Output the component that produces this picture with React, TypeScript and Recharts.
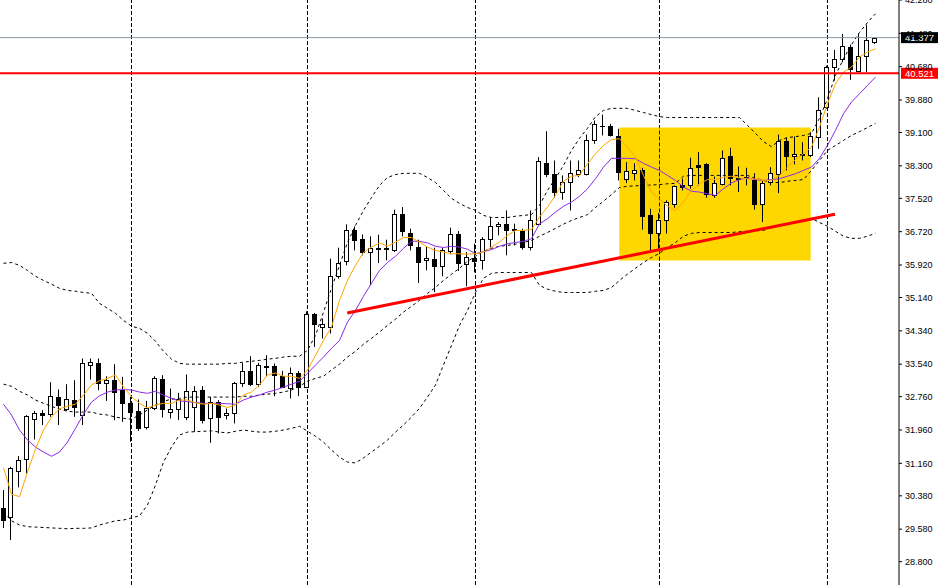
import React from "react";
import {
  ComposedChart,
  Bar,
  Line,
  XAxis,
  YAxis,
  ReferenceLine,
  ReferenceArea,
} from "recharts";

// daily candles
const opens = [
  30.087, 29.864, 30.981, 31.255, 32.213, 32.371, 32.333, 32.741, 32.453, 32.676,
  32.317, 33.532, 33.58, 33.076, 33.155, 32.916, 32.597, 32.42, 32.022, 32.477,
  33.196, 32.388, 32.453, 32.276, 32.516, 32.916, 32.237, 32.635, 32.309, 32.357,
  33.091, 33.378, 33.06, 33.491, 33.491, 33.251, 32.956, 33.316, 32.995, 34.754,
  34.433, 34.433, 35.648, 36.015, 36.751, 36.552, 36.231, 36.336, 36.336, 36.288,
  37.134, 36.696, 36.351, 36.049, 36.073, 35.888, 36.255, 36.655, 35.953, 36.08,
  36.032, 36.552, 36.847, 36.912, 36.792, 36.734, 36.351, 36.912, 38.374, 38.093,
  37.669, 37.909, 38.11, 38.093, 38.908, 39.268, 39.268, 39.028, 37.99, 38.124,
  38.206, 37.111, 36.686, 37.007, 37.391, 37.83, 37.83, 38.309, 38.333, 37.59,
  37.87, 38.525, 38.014, 38.028, 37.966, 37.374, 37.909, 38.11, 38.891, 38.541,
  38.589, 38.549, 38.987, 39.723, 40.682, 40.867, 41.145, 40.586, 40.946, 41.264,
];
const highs = [
  30.519, 31.077, 31.334, 32.317, 32.42, 32.436, 33.107, 32.932, 33.059, 33.155,
  33.675, 33.675, 33.675, 33.251, 33.539, 33.235, 32.755, 32.693, 32.659, 33.251,
  33.275, 32.956, 32.851, 33.292, 33.012, 33.012, 32.755, 32.676, 32.477, 33.115,
  33.57, 33.731, 33.57, 33.755, 33.556, 33.378, 33.46, 33.378, 34.809, 34.77,
  34.634, 36.073, 36.336, 36.895, 36.847, 36.655, 36.607, 36.648, 36.528, 37.247,
  37.31, 36.792, 36.528, 36.367, 36.336, 36.336, 36.816, 36.734, 36.231, 36.432,
  36.59, 37.07, 36.95, 37.23, 36.912, 36.792, 37.23, 38.508, 39.131, 38.429,
  38.069, 38.429, 38.429, 39.052, 39.388, 39.531, 39.308, 39.189, 38.388, 38.364,
  38.254, 37.271, 37.166, 37.47, 37.83, 37.99, 38.494, 38.628, 38.364, 38.045,
  38.669, 38.733, 38.285, 38.254, 38.124, 37.933, 38.268, 39.052, 38.973, 39.004,
  38.867, 39.107, 39.946, 40.706, 41.082, 41.466, 41.209, 41.466, 41.689, 41.384,
];
const lows = [
  29.608, 29.32, 30.584, 30.919, 31.734, 32.077, 32.276, 32.077, 32.42, 32.276,
  32.077, 33.172, 32.916, 32.659, 32.197, 32.156, 31.677, 31.94, 31.974, 32.436,
  32.261, 32.237, 32.197, 32.197, 31.916, 32.117, 31.653, 31.878, 32.213, 32.117,
  32.995, 33.012, 32.995, 33.251, 32.772, 32.98, 32.717, 32.772, 32.964, 33.954,
  34.155, 34.275, 35.593, 35.912, 36.272, 36.152, 35.433, 35.967, 36.032, 36.231,
  36.607, 36.272, 35.488, 35.792, 35.272, 35.648, 36.176, 35.775, 35.409, 35.744,
  35.809, 36.336, 36.631, 36.152, 36.392, 36.288, 36.272, 36.871, 38.028, 37.535,
  37.487, 37.23, 38.028, 38.069, 38.829, 39.028, 39.004, 37.949, 37.885, 37.949,
  36.768, 36.255, 36.312, 36.672, 37.295, 37.71, 37.751, 37.83, 37.535, 37.535,
  37.83, 37.83, 37.669, 37.83, 37.247, 36.95, 37.83, 37.645, 38.189, 38.333,
  38.429, 38.508, 38.709, 39.668, 40.346, 40.785, 40.363, 40.545, 40.545, 41.226,
];
const closes = [
  29.8, 31.039, 31.238, 32.293, 32.357, 32.309, 32.772, 32.549, 32.693, 32.501,
  33.58, 33.587, 33.076, 33.155, 32.875, 32.611, 32.396, 31.998, 32.477, 33.22,
  32.453, 32.453, 32.693, 32.899, 32.899, 32.197, 32.635, 32.261, 32.357, 33.076,
  33.378, 33.06, 33.515, 33.46, 33.275, 32.995, 33.316, 32.995, 34.754, 34.514,
  34.498, 35.648, 35.977, 36.751, 36.528, 36.231, 36.336, 36.303, 36.296, 37.134,
  36.734, 36.392, 35.991, 36.097, 35.905, 36.272, 36.655, 35.967, 36.111, 36.015,
  36.552, 36.847, 36.912, 36.768, 36.751, 36.351, 37.007, 38.405, 38.11, 37.669,
  37.909, 38.124, 38.206, 38.908, 39.292, 39.251, 39.052, 38.148, 38.172, 38.189,
  37.087, 36.686, 37.007, 37.429, 37.806, 37.798, 38.254, 38.278, 37.614, 37.894,
  38.494, 38.014, 37.99, 37.997, 37.391, 37.885, 38.124, 38.891, 38.525, 38.589,
  38.556, 39.028, 39.644, 40.682, 40.867, 41.185, 40.627, 40.946, 41.322, 41.377,
];

// indicator lines
const maFast = [
  31.05, 30.42, 30.36, 30.95, 31.5, 31.96, 32.27, 32.47, 32.53, 32.58,
  32.8, 33.04, 33.14, 33.2, 33.28, 32.99, 32.76, 32.6, 32.49, 32.56,
  32.6, 32.6, 32.68, 32.68, 32.61, 32.58, 32.6, 32.56, 32.5, 32.56,
  32.8, 32.87, 33.04, 33.28, 33.33, 33.25, 33.25, 33.2, 33.4, 33.75,
  34.11, 34.43, 35.07, 35.55, 35.91, 36.22, 36.35, 36.45, 36.37, 36.47,
  36.58, 36.58, 36.47, 36.35, 36.27, 36.23, 36.19, 36.19, 36.18, 36.19,
  36.23, 36.35, 36.47, 36.63, 36.75, 36.75, 36.77, 37.07, 37.31, 37.59,
  37.93, 38.05, 38.07, 38.35, 38.59, 38.79, 38.93, 38.95, 38.75, 38.51,
  38.07, 37.67, 37.51, 37.33, 37.23, 37.43, 37.71, 37.87, 37.97, 37.97,
  38.03, 38.05, 38.01, 37.99, 37.99, 37.95, 37.95, 38.07, 38.27, 38.45,
  38.59, 38.75, 39.23, 39.79, 40.27, 40.55, 40.67, 40.91, 41.03, 41.11,
];
const maSlow = [
  32.58, 32.32, 31.96, 31.72, 31.55, 31.43, 31.33, 31.43, 31.67, 32.0,
  32.34, 32.63, 32.78, 32.87, 32.92, 32.93, 32.92, 32.87, 32.84, 32.89,
  32.8, 32.72, 32.66, 32.64, 32.62, 32.6, 32.6, 32.6, 32.59, 32.58,
  32.68, 32.75, 32.8, 32.87, 32.92, 32.99, 33.06, 33.13, 33.32, 33.52,
  33.71, 33.92, 34.11, 34.55, 34.83, 35.17, 35.48, 35.79, 35.98, 36.13,
  36.32, 36.49, 36.49, 36.45, 36.37, 36.34, 36.37, 36.35, 36.3, 36.19,
  36.24, 36.29, 36.37, 36.43, 36.46, 36.49, 36.55, 36.91, 37.03, 37.19,
  37.33, 37.43, 37.57, 37.75, 37.99, 38.27, 38.48, 38.48, 38.48, 38.47,
  38.36, 38.27, 38.19, 38.07, 37.95, 37.79, 37.69, 37.67, 37.63, 37.59,
  37.75, 37.89, 37.97, 38.01, 37.97, 37.95, 37.97, 37.99, 38.05, 38.11,
  38.19, 38.27, 38.48, 38.79, 39.15, 39.55, 39.83, 40.03, 40.23, 40.43,
];
const bbUpper = [
  35.96, 35.98, 35.91, 35.79, 35.65, 35.55, 35.46, 35.36, 35.31, 35.29,
  35.26, 35.24, 35.0, 34.88, 34.76, 34.59, 34.45, 34.4, 34.28, 34.09,
  33.85, 33.66, 33.56, 33.54, 33.54, 33.54, 33.54, 33.54, 33.56, 33.56,
  33.59, 33.61, 33.63, 33.66, 33.68, 33.71, 33.73, 33.73, 33.87, 34.23,
  34.79, 35.36, 35.91, 36.46, 36.87, 37.23, 37.54, 37.83, 38.02, 38.09,
  38.12, 38.12, 38.12, 38.02, 37.9, 37.71, 37.52, 37.4, 37.3, 37.23,
  37.11, 37.06, 37.06, 37.06, 37.09, 37.11, 37.13, 37.35, 37.71, 38.0,
  38.31, 38.67, 38.96, 39.2, 39.48, 39.63, 39.68, 39.68, 39.68, 39.63,
  39.58, 39.53, 39.48, 39.46, 39.46, 39.46, 39.46, 39.46, 39.46, 39.46,
  39.46, 39.46, 39.46, 39.27, 39.08, 38.88, 38.76, 38.91, 38.98, 39.0,
  39.03, 39.08, 39.44, 39.91, 40.47, 40.87, 41.21, 41.5, 41.74, 41.95,
];
const bbMid = [
  33.06, 33.01, 32.89, 32.8, 32.68, 32.6, 32.53, 32.46, 32.41, 32.39,
  32.39, 32.39, 32.34, 32.32, 32.27, 32.24, 32.22, 32.32, 32.44, 32.56,
  32.65, 32.7, 32.72, 32.75, 32.75, 32.75, 32.75, 32.75, 32.75, 32.75,
  32.77, 32.77, 32.8, 32.82, 32.84, 32.87, 32.92, 33.01, 33.13, 33.2,
  33.25, 33.4, 33.54, 33.71, 33.85, 34.02, 34.16, 34.31, 34.47, 34.62,
  34.79, 34.93, 35.07, 35.24, 35.38, 35.55, 35.7, 35.84, 36.01, 36.13,
  36.25, 36.32, 36.37, 36.39, 36.42, 36.46, 36.51, 36.61, 36.7, 36.8,
  36.9, 36.99, 37.06, 37.13, 37.3, 37.45, 37.61, 37.78, 37.81, 37.82,
  37.83, 37.84, 37.85, 37.87, 37.88, 38.05, 38.07, 38.07, 38.07, 38.07,
  38.07, 38.07, 38.07, 38.07, 38.0, 37.95, 37.9, 37.9, 37.93, 37.95,
  37.97, 38.19, 38.43, 38.67, 38.79, 38.91, 39.03, 39.12, 39.22, 39.32,
];
const bbLower = [
  29.99, 29.78, 29.68, 29.64, 29.63, 29.62, 29.61, 29.6, 29.59, 29.6,
  29.6, 29.61, 29.68, 29.73, 29.78, 29.8, 29.85, 29.9, 30.16, 30.64,
  31.19, 31.55, 31.84, 31.91, 31.92, 31.93, 31.94, 31.91, 31.89, 31.93,
  31.96, 31.93, 31.91, 31.91, 31.93, 31.96, 32.0, 32.05, 31.93, 31.81,
  31.67, 31.48, 31.31, 31.19, 31.17, 31.29, 31.43, 31.57, 31.72, 31.91,
  32.08, 32.27, 32.48, 32.75, 33.04, 33.52, 33.99, 34.47, 34.83, 35.26,
  35.6, 35.72, 35.74, 35.74, 35.74, 35.74, 35.74, 35.43, 35.34, 35.29,
  35.26, 35.26, 35.26, 35.26, 35.29, 35.31, 35.38, 35.55, 35.7, 35.84,
  35.98, 36.1, 36.2, 36.34, 36.46, 36.61, 36.68, 36.7, 36.7, 36.7,
  36.7, 36.7, 36.72, 36.73, 36.74, 36.75, 36.82, 36.87, 36.9, 36.94,
  36.97, 37.04, 36.94, 36.85, 36.73, 36.61, 36.56, 36.56, 36.61, 36.68,
];

const gridIdx = [16, 38, 59, 82, 103];
const yTicks = [
  28.8, 29.58, 30.38, 31.16, 31.96, 32.76, 33.54, 34.34, 35.14, 35.92, 36.72,
  37.52, 38.3, 39.1, 39.88, 40.68, 41.48, 42.28,
];
const lastPrice = 41.377;
const levelPrice = 40.521;
const boxX = [76.97, 100.9];
const boxY = [36.03, 39.22];
const trendLine = [
  { x: 42.97, y: 34.77 },
  { x: 103.94, y: 37.14 },
];

const rows = opens.map((o, i) => ({
  i,
  open: o,
  high: highs[i],
  low: lows[i],
  close: closes[i],
  fast: maFast[i],
  slow: maSlow[i],
  up: bbUpper[i],
  mid: bbMid[i],
  dn: bbLower[i],
}));

const FONT = "Liberation Sans, Arial, sans-serif";

function Candle(props: any) {
  const { x, y, width, height, payload } = props;
  if (x == null || payload == null) return null;
  const top = Math.min(y, y + height);
  const h = Math.abs(height);
  const k = h / (payload.high - payload.low || 1);
  const yOf = (v: number) => top + (payload.high - v) * k;
  const cx = Math.floor(x + width / 2) + 0.5;
  const yo = Math.round(yOf(payload.open)) + 0.5;
  const yc = Math.round(yOf(payload.close)) + 0.5;
  const bull = payload.close >= payload.open;
  const bTop = Math.min(yo, yc);
  const bH = Math.abs(yo - yc);
  return (
    <g>
      <line x1={cx} x2={cx} y1={top} y2={top + h} stroke="#000" strokeWidth={1} />
      {bH < 1 ? (
        <line x1={cx - 2.5} x2={cx + 2.5} y1={yo} y2={yo} stroke="#000" strokeWidth={1} />
      ) : (
        <rect
          x={cx - 2}
          y={bTop}
          width={4}
          height={bH}
          fill={bull ? "#fff" : "#000"}
          stroke="#000"
          strokeWidth={1}
        />
      )}
    </g>
  );
}

const priceTag = (text: string, bg: string) => (props: any) => {
  const vb = props.viewBox || {};
  const x0 = (vb.x ?? 0) + (vb.width ?? 0);
  const y0 = vb.y ?? 0;
  return (
    <g>
      <rect x={x0 + 2} y={y0 - 5.5} width={37} height={11} fill={bg} />
      <text x={x0 + 6} y={y0 + 3.5} fill="#fff" fontSize={9.5} fontFamily={FONT}>
        {text}
      </text>
    </g>
  );
};

const lineProps = {
  type: "linear" as const,
  strokeWidth: 1,
  dot: false,
  activeDot: false,
  isAnimationActive: false,
};

export default function App() {
  return (
    <div
      style={{
        position: "absolute",
        left: 0,
        top: 0,
        width: 940,
        height: 585,
        background: "#fff",
      }}
    >
      <ComposedChart
        width={940}
        height={585}
        data={rows}
        margin={{ top: 0, right: 0, bottom: 0, left: 0 }}
      >
        <XAxis
          dataKey="i"
          type="number"
          domain={[-0.4375, 111.94]}
          allowDataOverflow
          hide
        />
        <YAxis
          orientation="right"
          width={41}
          domain={[28.24, 42.28]}
          allowDataOverflow
          ticks={yTicks}
          interval={0}
          tickFormatter={(v: number) => v.toFixed(3)}
          tick={{ fontSize: 9, fill: "#000", fontFamily: FONT }}
          tickSize={3}
          tickMargin={3}
          axisLine={{ stroke: "#000" }}
          tickLine={{ stroke: "#000" }}
        />

        {gridIdx.map((g) => (
          <ReferenceLine
            key={g}
            x={g}
            stroke="#000"
            strokeDasharray="4 2"
            zIndex={-60}
          />
        ))}
        <ReferenceArea
          x1={boxX[0]}
          x2={boxX[1]}
          y1={boxY[0]}
          y2={boxY[1]}
          fill="#FFD700"
          fillOpacity={1}
          stroke="none"
          zIndex={-50}
        />
        <ReferenceLine
          segment={[
            { x: gridIdx[3], y: boxY[0] },
            { x: gridIdx[3], y: boxY[1] },
          ]}
          stroke="#0000ff"
          strokeDasharray="4 2"
          zIndex={-40}
        />

        <Line {...lineProps} dataKey="up" stroke="#000" strokeDasharray="3 3" />
        <Line {...lineProps} dataKey="mid" stroke="#000" strokeDasharray="3 3" />
        <Line {...lineProps} dataKey="dn" stroke="#000" strokeDasharray="3 3" />
        <Line {...lineProps} dataKey="slow" stroke="#8A2BE2" />
        <Line {...lineProps} dataKey="fast" stroke="#FFA500" />

        <Bar
          dataKey={(d: any) => [d.low, d.high]}
          barSize={5}
          shape={Candle}
          activeBar={false}
          isAnimationActive={false}
        />

        <ReferenceLine
          y={lastPrice}
          stroke="#8a96a3"
          strokeWidth={1}
          label={priceTag(lastPrice.toFixed(3), "#000")}
        />
        <ReferenceLine
          y={levelPrice}
          stroke="#ff0000"
          strokeWidth={2}
          label={priceTag(levelPrice.toFixed(3), "#ff0000")}
        />
        <ReferenceLine segment={trendLine} stroke="#ff0000" strokeWidth={3} />
      </ComposedChart>
    </div>
  );
}
